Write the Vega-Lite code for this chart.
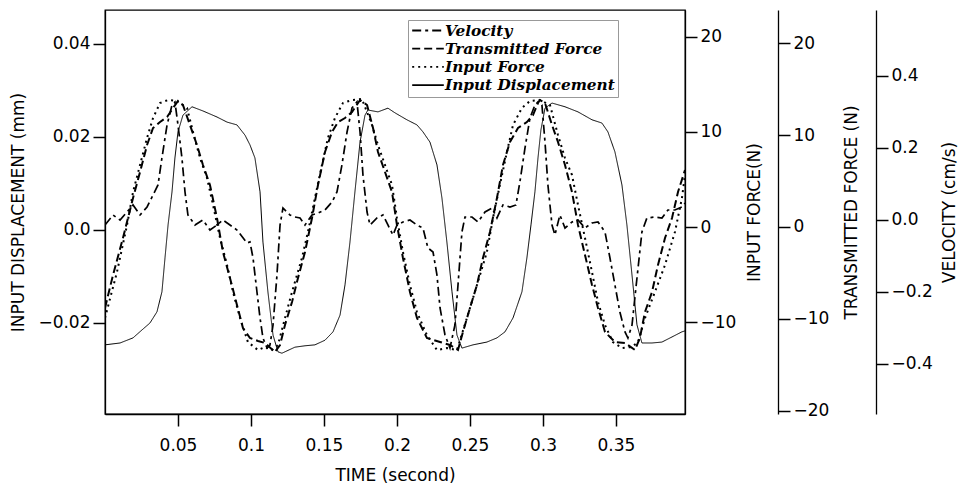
{
  "$schema": "https://vega.github.io/schema/vega-lite/v6.json",
  "width": 580,
  "height": 404,
  "autosize": {"type": "none"},
  "padding": {"left": 105, "top": 10, "right": 275, "bottom": 72},
  "background": "white",
  "config": {
    "view": {"stroke": "black", "strokeWidth": 1.3},
    "axis": {
      "grid": false,
      "domainColor": "black",
      "domainWidth": 1.3,
      "tickColor": "black",
      "tickWidth": 1.5,
      "tickSize": 12,
      "labelFont": "DejaVu Sans",
      "labelFontSize": 17,
      "labelColor": "black",
      "titleFont": "DejaVu Sans",
      "titleFontSize": 17,
      "titleFontWeight": "normal",
      "titleColor": "black",
      "labelPadding": 3
    },
    "legend": {
      "symbolType": "stroke",
      "symbolSize": 1000,
      "symbolStrokeWidth": 1.8,
      "symbolStrokeColor": "black",
      "labelFont": "DejaVu Serif",
      "labelFontStyle": "italic",
      "labelFontWeight": "bold",
      "labelFontSize": 15.3,
      "labelLimit": 400,
      "labelColor": "black",
      "clipHeight": 15,
      "rowPadding": 2.2,
      "strokeColor": "#999999",
      "fillColor": "white",
      "padding": 3,
      "labelOffset": 0
    }
  },
  "datasets": {
    "disp": [
      {"t":0,"v":-0.0247},{"t":0.0103,"v":-0.0243},{"t":0.0192,"v":-0.0232},{"t":0.0253,"v":-0.0215},{"t":0.0308,"v":-0.0200},{"t":0.0356,"v":-0.0176},{"t":0.0390,"v":-0.0133},{"t":0.0411,"v":-0.0060},{"t":0.0432,"v":0.0011},{"t":0.0459,"v":0.0082},{"t":0.0479,"v":0.0155},{"t":0.0500,"v":0.0211},{"t":0.0534,"v":0.0247},{"t":0.0596,"v":0.0265},{"t":0.0671,"v":0.0256},{"t":0.0767,"v":0.0243},{"t":0.0836,"v":0.0232},{"t":0.0904,"v":0.0226},{"t":0.0959,"v":0.0204},{"t":0.0993,"v":0.0183},{"t":0.1027,"v":0.0155},{"t":0.1062,"v":0.0082},{"t":0.1082,"v":-0.0026},{"t":0.1116,"v":-0.0133},{"t":0.1151,"v":-0.0226},{"t":0.1185,"v":-0.0262},{"t":0.1212,"v":-0.0265},{"t":0.1301,"v":-0.0252},{"t":0.1370,"v":-0.0249},{"t":0.1438,"v":-0.0247},{"t":0.1507,"v":-0.0237},{"t":0.1562,"v":-0.0219},{"t":0.1610,"v":-0.0183},{"t":0.1644,"v":-0.0118},{"t":0.1678,"v":-0.0026},{"t":0.1712,"v":0.0082},{"t":0.1747,"v":0.0189},{"t":0.1781,"v":0.0247},{"t":0.1801,"v":0.0258},{"t":0.1870,"v":0.0254},{"t":0.1938,"v":0.0262},{"t":0.1986,"v":0.0252},{"t":0.2068,"v":0.0237},{"t":0.2137,"v":0.0226},{"t":0.2178,"v":0.0211},{"t":0.2226,"v":0.0189},{"t":0.2274,"v":0.0140},{"t":0.2308,"v":0.0069},{"t":0.2342,"v":-0.0026},{"t":0.2377,"v":-0.0133},{"t":0.2411,"v":-0.0226},{"t":0.2445,"v":-0.0254},{"t":0.2521,"v":-0.0247},{"t":0.2616,"v":-0.0241},{"t":0.2685,"v":-0.0232},{"t":0.2740,"v":-0.0219},{"t":0.2795,"v":-0.0189},{"t":0.2856,"v":-0.0133},{"t":0.2890,"v":-0.0060},{"t":0.2918,"v":0.0011},{"t":0.2945,"v":0.0082},{"t":0.2966,"v":0.0155},{"t":0.2986,"v":0.0215},{"t":0.3014,"v":0.0262},{"t":0.3062,"v":0.0273},{"t":0.3151,"v":0.0265},{"t":0.3240,"v":0.0254},{"t":0.3336,"v":0.0237},{"t":0.3404,"v":0.0230},{"t":0.3445,"v":0.0211},{"t":0.3493,"v":0.0168},{"t":0.3541,"v":0.0097},{"t":0.3575,"v":0.0011},{"t":0.3610,"v":-0.0097},{"t":0.3644,"v":-0.0204},{"t":0.3678,"v":-0.0243},{"t":0.3747,"v":-0.0243},{"t":0.3815,"v":-0.0241},{"t":0.3884,"v":-0.0230},{"t":0.3952,"v":-0.0219},{"t":0.3973,"v":-0.0217}
    ],
    "fin": [
      {"t":0,"v":-9.58},{"t":0.0082,"v":-4.74},{"t":0.0151,"v":0.21},{"t":0.0192,"v":3.68},{"t":0.0240,"v":6.53},{"t":0.0288,"v":9.37},{"t":0.0329,"v":11.47},{"t":0.0377,"v":13.05},{"t":0.0432,"v":13.37},{"t":0.0493,"v":13.26},{"t":0.0562,"v":12.53},{"t":0.0603,"v":10.0},{"t":0.0651,"v":7.26},{"t":0.0699,"v":5.16},{"t":0.0740,"v":2.32},{"t":0.0788,"v":-1.16},{"t":0.0836,"v":-4.0},{"t":0.0877,"v":-6.84},{"t":0.0925,"v":-9.58},{"t":0.0979,"v":-12.11},{"t":0.1048,"v":-12.95},{"t":0.1096,"v":-12.63},{"t":0.1144,"v":-12.95},{"t":0.1185,"v":-12.42},{"t":0.1233,"v":-9.58},{"t":0.1281,"v":-6.84},{"t":0.1349,"v":-3.26},{"t":0.1390,"v":-0.53},{"t":0.1438,"v":3.05},{"t":0.1486,"v":6.53},{"t":0.1527,"v":9.37},{"t":0.1575,"v":11.47},{"t":0.1630,"v":13.05},{"t":0.1692,"v":13.37},{"t":0.1760,"v":13.47},{"t":0.1829,"v":10.74},{"t":0.1870,"v":8.63},{"t":0.1918,"v":6.53},{"t":0.1966,"v":4.42},{"t":0.2000,"v":0.95},{"t":0.2041,"v":-2.63},{"t":0.2089,"v":-6.11},{"t":0.2137,"v":-8.95},{"t":0.2205,"v":-11.37},{"t":0.2274,"v":-12.95},{"t":0.2342,"v":-12.74},{"t":0.2411,"v":-12.95},{"t":0.2479,"v":-9.58},{"t":0.2548,"v":-6.11},{"t":0.2616,"v":-2.63},{"t":0.2658,"v":0.95},{"t":0.2705,"v":4.42},{"t":0.2753,"v":7.89},{"t":0.2795,"v":10.74},{"t":0.2856,"v":12.53},{"t":0.2911,"v":13.26},{"t":0.2979,"v":13.37},{"t":0.3048,"v":12.84},{"t":0.3103,"v":9.68},{"t":0.3151,"v":7.26},{"t":0.3199,"v":5.47},{"t":0.3240,"v":2.32},{"t":0.3288,"v":-1.16},{"t":0.3336,"v":-4.74},{"t":0.3377,"v":-7.89},{"t":0.3425,"v":-10.32},{"t":0.3479,"v":-12.11},{"t":0.3541,"v":-12.74},{"t":0.3610,"v":-12.63},{"t":0.3651,"v":-12.11},{"t":0.3699,"v":-9.58},{"t":0.3767,"v":-6.84},{"t":0.3836,"v":-4.0},{"t":0.3904,"v":-0.53},{"t":0.3952,"v":3.05},{"t":0.3973,"v":5.47}
    ],
    "ftr": [
      {"t":0,"v":-8.80},{"t":0.0055,"v":-5.22},{"t":0.0123,"v":-1.20},{"t":0.0192,"v":3.15},{"t":0.0240,"v":5.98},{"t":0.0288,"v":8.91},{"t":0.0329,"v":10.76},{"t":0.0377,"v":11.41},{"t":0.0425,"v":11.96},{"t":0.0466,"v":12.93},{"t":0.0500,"v":13.70},{"t":0.0534,"v":13.26},{"t":0.0582,"v":11.09},{"t":0.0630,"v":8.91},{"t":0.0671,"v":6.74},{"t":0.0719,"v":4.57},{"t":0.0767,"v":0.98},{"t":0.0808,"v":-2.72},{"t":0.0856,"v":-5.54},{"t":0.0904,"v":-8.48},{"t":0.0945,"v":-10.98},{"t":0.0993,"v":-12.07},{"t":0.1048,"v":-12.39},{"t":0.1096,"v":-12.61},{"t":0.1164,"v":-13.59},{"t":0.1199,"v":-12.83},{"t":0.1233,"v":-10.65},{"t":0.1281,"v":-8.15},{"t":0.1322,"v":-5.54},{"t":0.1370,"v":-2.72},{"t":0.1418,"v":0.98},{"t":0.1459,"v":4.57},{"t":0.1507,"v":8.15},{"t":0.1555,"v":10.33},{"t":0.1596,"v":11.41},{"t":0.1644,"v":11.85},{"t":0.1692,"v":12.5},{"t":0.1747,"v":13.80},{"t":0.1795,"v":13.26},{"t":0.1836,"v":10.76},{"t":0.1870,"v":8.15},{"t":0.1918,"v":5.98},{"t":0.1966,"v":3.80},{"t":0.2000,"v":0.22},{"t":0.2041,"v":-3.37},{"t":0.2089,"v":-7.07},{"t":0.2137,"v":-9.89},{"t":0.2205,"v":-12.07},{"t":0.2295,"v":-12.5},{"t":0.2363,"v":-12.83},{"t":0.2418,"v":-13.37},{"t":0.2452,"v":-11.41},{"t":0.2500,"v":-8.80},{"t":0.2548,"v":-6.30},{"t":0.2589,"v":-3.37},{"t":0.2637,"v":-0.54},{"t":0.2685,"v":3.15},{"t":0.2726,"v":6.74},{"t":0.2774,"v":9.24},{"t":0.2829,"v":10.76},{"t":0.2890,"v":11.41},{"t":0.2932,"v":12.17},{"t":0.2966,"v":13.48},{"t":0.2979,"v":13.80},{"t":0.3014,"v":13.48},{"t":0.3062,"v":11.09},{"t":0.3103,"v":9.24},{"t":0.3151,"v":6.74},{"t":0.3199,"v":3.80},{"t":0.3240,"v":0.22},{"t":0.3288,"v":-3.04},{"t":0.3336,"v":-6.30},{"t":0.3377,"v":-8.80},{"t":0.3425,"v":-11.41},{"t":0.3493,"v":-12.5},{"t":0.3562,"v":-12.61},{"t":0.3630,"v":-13.37},{"t":0.3664,"v":-12.07},{"t":0.3699,"v":-9.24},{"t":0.3747,"v":-7.07},{"t":0.3788,"v":-4.13},{"t":0.3836,"v":-1.20},{"t":0.3884,"v":0.98},{"t":0.3925,"v":3.80},{"t":0.3973,"v":6.20}
    ],
    "vel": [
      {"t":0,"v":-0.0139},{"t":0.0055,"v":0.0139},{"t":0.0103,"v":0},{"t":0.0151,"v":0.0222},{"t":0.0192,"v":0.0417},{"t":0.0240,"v":0.0139},{"t":0.0288,"v":0.0361},{"t":0.0329,"v":0.0694},{"t":0.0363,"v":0.0972},{"t":0.0390,"v":0.1722},{"t":0.0425,"v":0.2639},{"t":0.0459,"v":0.3194},{"t":0.0479,"v":0.3278},{"t":0.0500,"v":0.2639},{"t":0.0527,"v":0.1722},{"t":0.0548,"v":0.0778},{"t":0.0568,"v":0.0139},{"t":0.0616,"v":-0.0139},{"t":0.0671,"v":0},{"t":0.0719,"v":-0.0278},{"t":0.0767,"v":-0.0139},{"t":0.0808,"v":0},{"t":0.0856,"v":-0.0139},{"t":0.0904,"v":-0.0278},{"t":0.0973,"v":-0.0639},{"t":0.0993,"v":-0.0611},{"t":0.1014,"v":-0.1056},{"t":0.1041,"v":-0.2},{"t":0.1062,"v":-0.2722},{"t":0.1082,"v":-0.3278},{"t":0.1110,"v":-0.3556},{"t":0.1130,"v":-0.3472},{"t":0.1151,"v":-0.2917},{"t":0.1178,"v":-0.1528},{"t":0.1199,"v":-0.0139},{"t":0.1219,"v":0.0333},{"t":0.1267,"v":0.0139},{"t":0.1301,"v":0.0083},{"t":0.1336,"v":0.0056},{"t":0.1370,"v":-0.0139},{"t":0.1418,"v":0.0139},{"t":0.1459,"v":0.0194},{"t":0.1507,"v":0.0278},{"t":0.1555,"v":0.05},{"t":0.1589,"v":0.0778},{"t":0.1623,"v":0.1528},{"t":0.1658,"v":0.2444},{"t":0.1692,"v":0.3111},{"t":0.1726,"v":0.3278},{"t":0.1747,"v":0.2444},{"t":0.1767,"v":0.125},{"t":0.1795,"v":0.0222},{"t":0.1815,"v":-0.0139},{"t":0.1863,"v":0.0056},{"t":0.1904,"v":0.0139},{"t":0.1938,"v":-0.0139},{"t":0.1973,"v":-0.0417},{"t":0.2000,"v":-0.0139},{"t":0.2041,"v":-0.0056},{"t":0.2089,"v":0},{"t":0.2137,"v":-0.0139},{"t":0.2178,"v":-0.0222},{"t":0.2212,"v":-0.0778},{"t":0.2247,"v":-0.0889},{"t":0.2274,"v":-0.1528},{"t":0.2295,"v":-0.2444},{"t":0.2329,"v":-0.3194},{"t":0.2363,"v":-0.3556},{"t":0.2397,"v":-0.2917},{"t":0.2418,"v":-0.1806},{"t":0.2445,"v":-0.0333},{"t":0.2466,"v":0.0083},{"t":0.2514,"v":0.0083},{"t":0.2555,"v":-0.0056},{"t":0.2603,"v":0.0222},{"t":0.2651,"v":0.0333},{"t":0.2685,"v":0.0056},{"t":0.2726,"v":0.0417},{"t":0.2774,"v":0.0361},{"t":0.2815,"v":0.0417},{"t":0.2842,"v":0.1056},{"t":0.2877,"v":0.2},{"t":0.2911,"v":0.2833},{"t":0.2945,"v":0.3194},{"t":0.2966,"v":0.3278},{"t":0.2993,"v":0.3194},{"t":0.3014,"v":0.2167},{"t":0.3034,"v":0.0972},{"t":0.3062,"v":-0.0139},{"t":0.3082,"v":-0.0417},{"t":0.3116,"v":0.0139},{"t":0.3151,"v":-0.0222},{"t":0.3199,"v":-0.0056},{"t":0.3240,"v":0},{"t":0.3288,"v":-0.0222},{"t":0.3336,"v":-0.0083},{"t":0.3377,"v":-0.0056},{"t":0.3425,"v":-0.0333},{"t":0.3459,"v":-0.1056},{"t":0.3493,"v":-0.1806},{"t":0.3527,"v":-0.2556},{"t":0.3562,"v":-0.3111},{"t":0.3582,"v":-0.3278},{"t":0.3610,"v":-0.2917},{"t":0.3644,"v":-0.1611},{"t":0.3678,"v":-0.0333},{"t":0.3712,"v":0.0056},{"t":0.3767,"v":0.0083},{"t":0.3815,"v":0.0056},{"t":0.3856,"v":0.0278},{"t":0.3904,"v":0.0278},{"t":0.3952,"v":0.0361},{"t":0.3973,"v":0.0472}
    ]
  },
  "encoding": {
    "x": {
      "field": "t", "type": "quantitative",
      "scale": {"domain": [0, 0.3973], "nice": false, "zero": false},
      "axis": {"values": [0.05, 0.1, 0.15, 0.2, 0.25, 0.3, 0.35], "format": "~g", "title": "TIME (second)", "labelPadding": 11, "titlePadding": 14}
    }
  },
  "layer": [
    {
      "data": {"name": "disp"},
      "mark": {"type": "line", "color": "black", "strokeWidth": 1, "clip": true},
      "encoding": {
        "y": {"field": "v", "type": "quantitative",
          "scale": {"domain": [-0.03957, 0.04731], "nice": false, "zero": false},
          "axis": {"orient": "left", "values": [-0.02, 0, 0.02, 0.04], "labelExpr": "datum.value == 0 ? '0.0' : format(datum.value, '.2f')", "title": "INPUT DISPLACEMENT (mm)", "titlePadding": 10}},
        "strokeDash": {"datum": "Input Displacement", "type": "nominal",
          "scale": {"domain": ["Velocity", "Transmitted Force", "Input Force", "Input Displacement"], "range": [[9, 4, 3, 4], [8, 4], [2, 4], [1, 0]]},
          "legend": {"title": null, "orient": "none", "legendX": 303, "legendY": 10}}
      }
    },
    {
      "data": {"name": "fin"},
      "mark": {"type": "line", "color": "black", "strokeWidth": 2, "clip": true},
      "encoding": {
        "y": {"field": "v", "type": "quantitative",
          "scale": {"domain": [-19.68, 22.84], "nice": false, "zero": false},
          "axis": {"orient": "right", "offset": 0, "values": [-10, 0, 10, 20], "title": "INPUT FORCE(N)", "titleAngle": 270, "titlePadding": 28}},
        "strokeDash": {"datum": "Input Force", "type": "nominal"}
      }
    },
    {
      "data": {"name": "ftr"},
      "mark": {"type": "line", "color": "black", "strokeWidth": 2, "clip": true},
      "encoding": {
        "y": {"field": "v", "type": "quantitative",
          "scale": {"domain": [-20.33, 23.59], "nice": false, "zero": false},
          "axis": {"orient": "right", "offset": 93, "values": [-20, -10, 0, 10, 20], "title": "TRANSMITTED FORCE (N)", "titleAngle": 270, "titlePadding": 32}},
        "strokeDash": {"datum": "Transmitted Force", "type": "nominal"}
      }
    },
    {
      "data": {"name": "vel"},
      "mark": {"type": "line", "color": "black", "strokeWidth": 1.7, "clip": true},
      "encoding": {
        "y": {"field": "v", "type": "quantitative",
          "scale": {"domain": [-0.5389, 0.5833], "nice": false, "zero": false},
          "axis": {"orient": "right", "offset": 191, "values": [-0.4, -0.2, 0, 0.2, 0.4], "format": ".1f", "title": "VELOCITY (cm/s)", "titleAngle": 270, "titlePadding": 26}},
        "strokeDash": {"datum": "Velocity", "type": "nominal"}
      }
    }
  ],
  "resolve": {"scale": {"y": "independent"}, "axis": {"y": "independent"}}
}
